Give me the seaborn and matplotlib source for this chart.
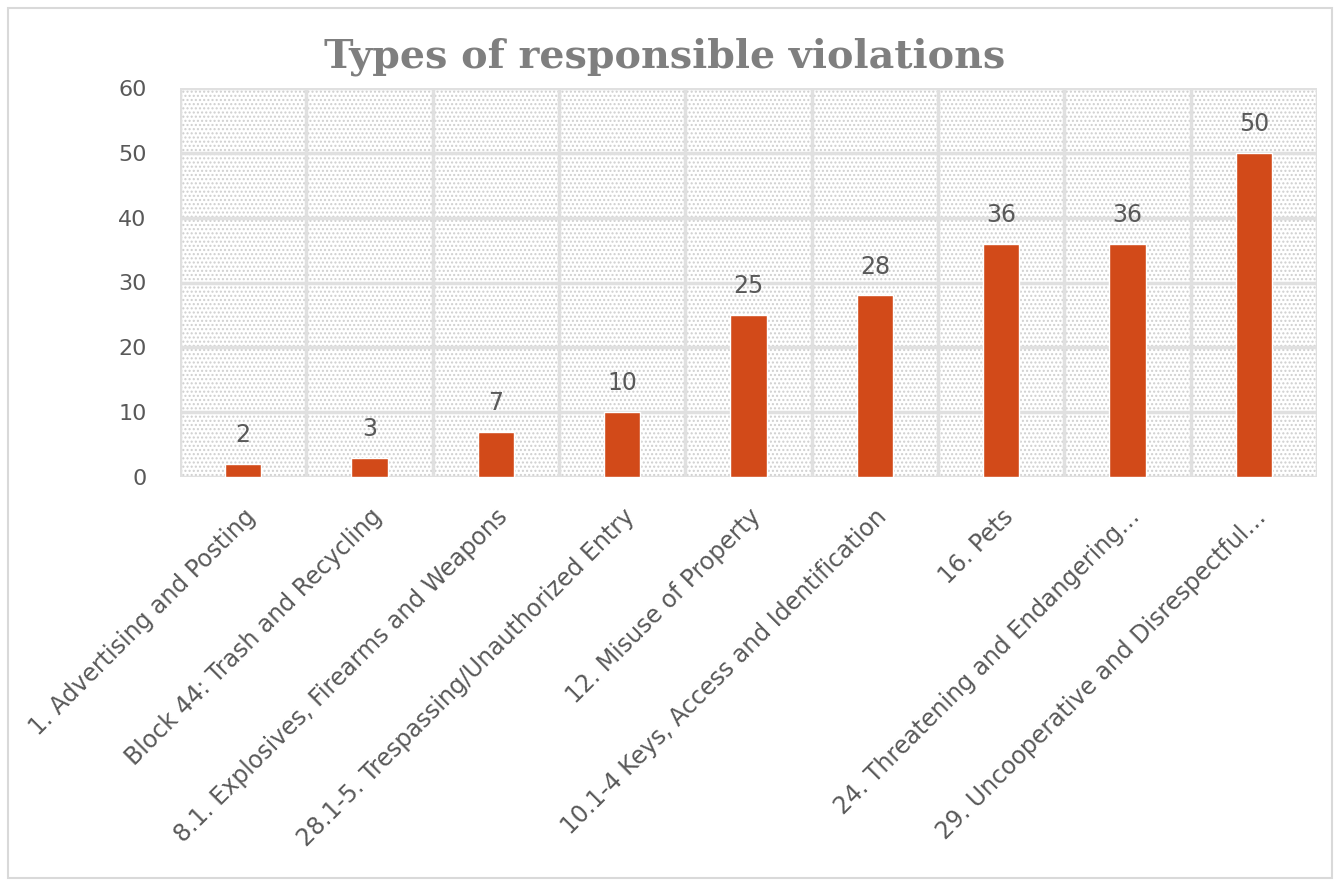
import matplotlib
matplotlib.use("Agg")
import matplotlib.pyplot as plt
import seaborn as sns
import pandas as pd
from matplotlib.patches import Rectangle

categories = [
    "1. Advertising and Posting",
    "Block 44: Trash and Recycling",
    "8.1. Explosives, Firearms and Weapons",
    "28.1-5. Trespassing/Unauthorized Entry",
    "12. Misuse of Property",
    "10.1-4 Keys, Access and Identification",
    "16. Pets",
    "24. Threatening and Endangering…",
    "29. Uncooperative and Disrespectful…",
]
values = [2, 3, 7, 10, 25, 28, 36, 36, 50]
yticks = [0, 10, 20, 30, 40, 50, 60]

df = pd.DataFrame({"category": categories, "value": values})

sns.set_theme(style="white")
plt.rcParams["font.family"] = ["DejaVu Sans"]

fig = plt.figure(figsize=(13.38, 8.86), dpi=100)
ax = fig.add_axes([180 / 1338, 1 - 477 / 886, (1317 - 180) / 1338, (477 - 88) / 886])

sns.barplot(data=df, x="category", y="value", color="#D24A19", width=0.29, ax=ax,
            saturation=1, zorder=3)

n = len(categories)
ax.set_xlim(-0.5, n - 0.5)
ax.set_ylim(0, 60)
ax.set_yticks(yticks)

# hatched background
bg = Rectangle((0, 0), 1, 1, transform=ax.transAxes, facecolor="white",
               edgecolor="#cfcfcf", hatch="....", linewidth=0, zorder=0)
ax.add_patch(bg)

for y in yticks:
    ax.axhline(y, color="#e0e0e0", lw=2.5, zorder=1)
for i in range(n + 1):
    ax.axvline(i - 0.5, color="#e0e0e0", lw=2.5, zorder=1)

for i, v in enumerate(values):
    ax.text(i, v + 2.6, str(v), ha="center", va="bottom", fontsize=17,
            color="#595959", zorder=4)

ax.set_xlabel("")
ax.set_ylabel("")
for s in ax.spines.values():
    s.set_visible(False)
ax.tick_params(axis="both", length=0, colors="#595959")
ax.tick_params(axis="y", pad=24, labelsize=16)
ax.set_xticks(range(n))
ax.set_xticklabels(categories, rotation=45, ha="right", rotation_mode="anchor",
                   fontsize=17, color="#595959")
ax.tick_params(axis="x", pad=20)

fig.text(665 / 1338, 1 - 57 / 886, "Types of responsible violations",
         ha="center", va="center", fontsize=28.5, fontweight="bold",
         family="DejaVu Serif", color="#7f7f7f")

border = Rectangle((8 / 1338, 8 / 886), 1 - 14 / 1338, 1 - 16 / 886,
                   transform=fig.transFigure, fill=False, edgecolor="#d9d9d9", lw=1.5)
fig.patches.append(border)

fig.savefig("out.png", dpi=100)
